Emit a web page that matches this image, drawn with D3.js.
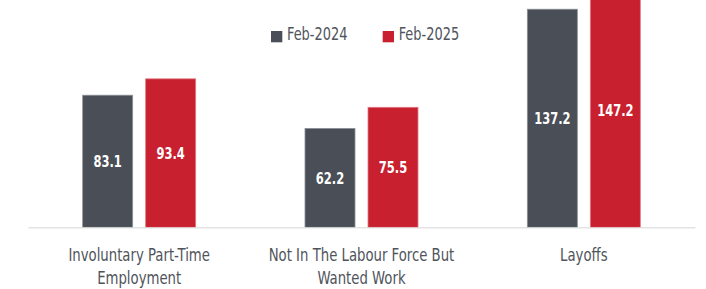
<!DOCTYPE html>
<html>
<head>
<meta charset="utf-8">
<script src="https://cdn.jsdelivr.net/npm/d3@7"></script>
<style>
  html, body { margin: 0; padding: 0; background: #fff; }
  svg { display: block; }
</style>
</head>
<body>
<svg id="chart" width="706" height="289"></svg>
<script>
const categories = ["Involuntary Part-Time Employment", "Not In The Labour Force But Wanted Work", "Layoffs"];
const categoryLines = [["Involuntary Part-Time", "Employment"], ["Not In The Labour Force But", "Wanted Work"], ["Layoffs"]];
const seriesNames = ["Feb-2024", "Feb-2025"];
const feb2024 = [83.1, 62.2, 137.2];
const feb2025 = [93.4, 75.5, 147.2];
const seriesColors = ["#4a4e56", "#c8202f"];
const seriesStroke = ["#8d9096", "#e07a84"];

const svg = d3.select("#chart");
const font = "'DejaVu Sans Condensed', 'Liberation Sans Narrow', sans-serif";
const squeeze = 0.8;
const baseY = 227.3;

const x0 = d3.scaleBand().domain(categories).range([28, 695]).paddingInner(0).paddingOuter(0);
const x1 = d3.scaleBand().domain(seriesNames)
  .range([x0.bandwidth() / 2 - 56.5, x0.bandwidth() / 2 + 56.5])
  .paddingInner(0.2063).paddingOuter(0);
const y = d3.scaleLinear().domain([0, 143]).range([baseY, 0]);

const data = categories.map((c, i) => ({ cat: c, vals: [feb2024[i], feb2025[i]] }));

svg.append("defs").append("clipPath").attr("id", "plotclip")
  .append("rect").attr("x", 0).attr("y", 0).attr("width", 706).attr("height", baseY);

// axis
const axis = svg.append("g").attr("transform", `translate(0,${baseY})`)
  .call(d3.axisBottom(x0).tickSize(0).tickSizeOuter(0).tickFormat(""));
axis.select(".domain").attr("stroke", "#e3e3e3").attr("stroke-width", 1.6);

const groups = svg.append("g").attr("clip-path", "url(#plotclip)")
  .selectAll("g.grp").data(data).join("g")
  .attr("class", "grp")
  .attr("transform", d => `translate(${x0(d.cat)},0)`);

const cells = d => d.vals.map((v, j) => ({ s: seriesNames[j], v, j }));

groups.selectAll("rect").data(cells)
  .join("rect")
  .attr("x", d => x1(d.s))
  .attr("y", d => y(d.v))
  .attr("width", x1.bandwidth())
  .attr("height", d => baseY - y(d.v))
  .attr("fill", d => seriesColors[d.j])
  .attr("stroke", d => seriesStroke[d.j])
  .attr("stroke-width", 0.8);

groups.selectAll("g.val").data(cells)
  .join("g")
  .attr("class", "val")
  .attr("transform", d => `translate(${x1(d.s) + x1.bandwidth() / 2},${(y(d.v) + baseY) / 2}) scale(${squeeze},1)`)
  .append("text")
  .attr("dy", "0.36em")
  .attr("text-anchor", "middle")
  .attr("fill", "#ffffff")
  .attr("font-family", font)
  .attr("font-weight", "bold")
  .attr("font-size", 16)
  .text(d => d3.format(".1f")(d.v));

// category labels
const labels = svg.append("g");
categories.forEach((c, i) => {
  const cx = x0(c) + x0.bandwidth() / 2;
  const t = labels.append("g")
    .attr("transform", `translate(${cx},261) scale(${squeeze + 0.02},1)`)
    .append("text")
    .attr("text-anchor", "middle")
    .attr("fill", "#4f545b")
    .attr("font-family", font)
    .attr("font-size", 18);
  categoryLines[i].forEach((ln, k) => {
    t.append("tspan").attr("x", 0).attr("dy", k === 0 ? 0 : 23.5).text(ln);
  });
});

// legend
const legendX = [271, 382.7];
const leg = svg.append("g");
seriesNames.forEach((s, j) => {
  leg.append("rect").attr("x", legendX[j]).attr("y", 31).attr("width", 11.3).attr("height", 11.3)
    .attr("fill", seriesColors[j]);
  leg.append("g").attr("transform", `translate(${legendX[j] + 16},40) scale(${squeeze},1)`)
    .append("text")
    .attr("fill", "#4f545b").attr("font-family", font).attr("font-size", 18).text(s);
});
</script>
</body>
</html>
